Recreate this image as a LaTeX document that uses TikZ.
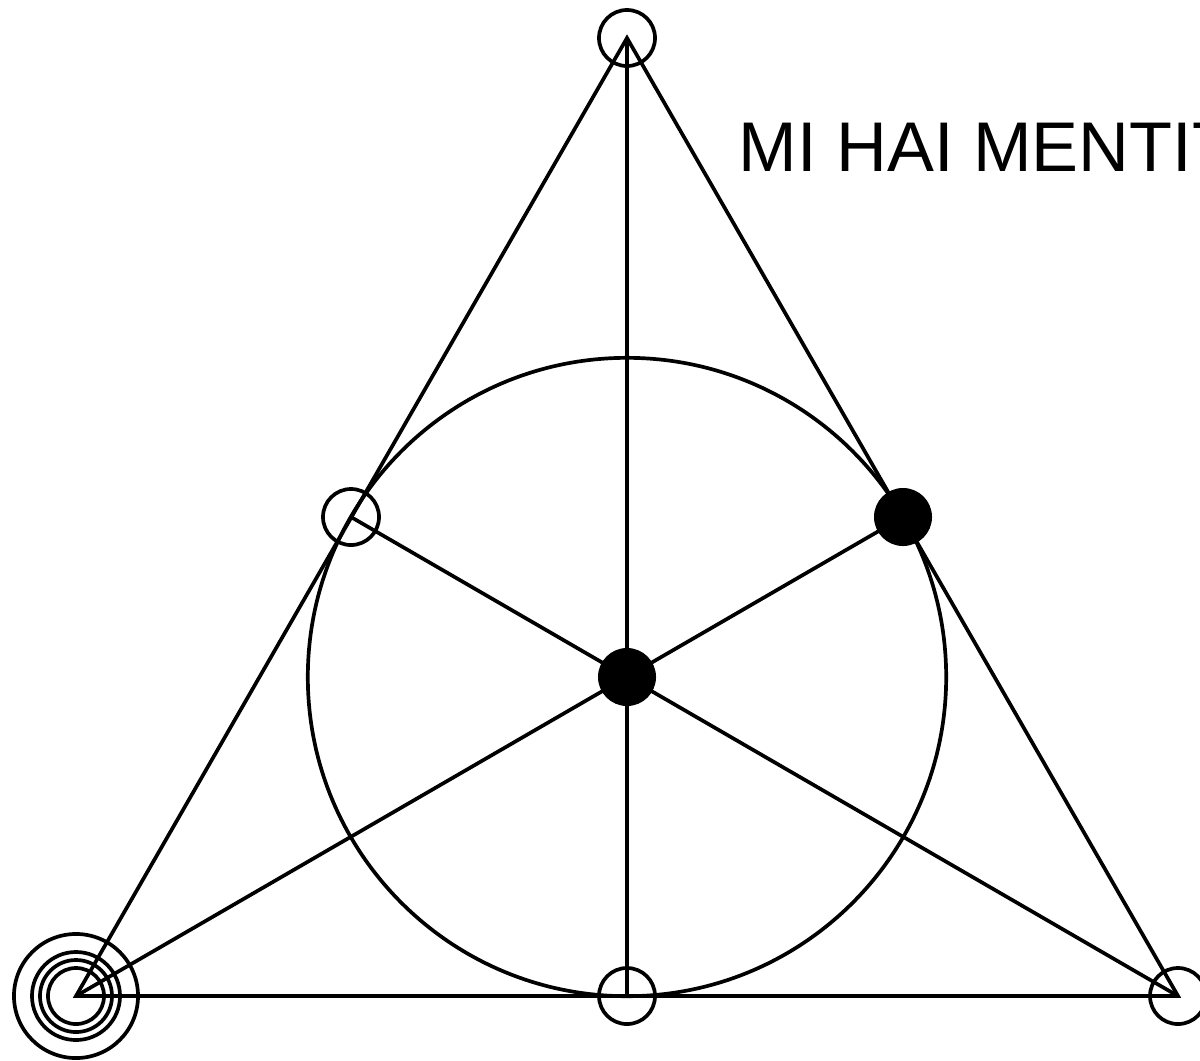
\documentclass[tikz,border=0pt]{standalone}
\usepackage{fontspec}
\setmainfont{Liberation Sans}
\begin{document}
\begin{tikzpicture}[x=0.01cm,y=-0.01cm,line width=1.05pt,
  ring/.style={circle,draw,inner sep=0pt,minimum size=0.56cm},
  dot/.style={circle,fill,inner sep=0pt,minimum size=0.58cm}]

% Frame
\useasboundingbox (0,0) rectangle (1200,1060);
\clip (0,0) rectangle (1200,1060);

% Points
\node[ring] (A) at (627,38) {};
\node[ring] (B) at (76,996) {};
\node[ring] (C) at (1178,996) {};
\node[dot] (O) at (627,677) {};
\node[ring] (AB) at (351,517) {};
\node[dot] (AC) at (903,517) {};
\node[ring] (BC) at (627,996) {};

% Rings round B
\draw (B.center) circle (0.36cm);
\draw (B.center) circle (0.44cm);
\draw (B.center) circle (0.62cm);

% Incircle
\draw (O.center) circle (3.19cm);

% Triangle
\draw (A.center) -- (B.center) -- (C.center) -- cycle;

% Medians
\draw (A.center) -- (BC.center);
\draw (B.center) -- (AC.center);
\draw (C.center) -- (AB.center);

% Label
\node[anchor=base west,inner sep=0pt,font=\fontsize{20}{24}\selectfont] (title) at (737,171) {MI HAI MENTITO};

\end{tikzpicture}
\end{document}
